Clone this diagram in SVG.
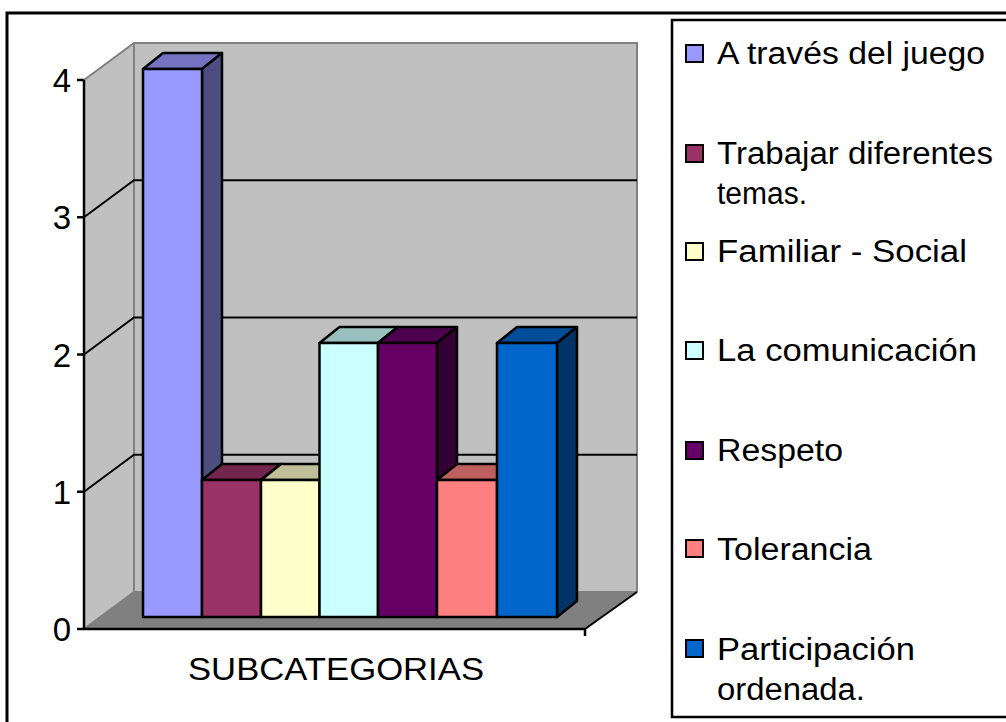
<svg xmlns="http://www.w3.org/2000/svg" width="1006" height="722" viewBox="0 0 1006 722">
<style>
.lbl{font-family:"Liberation Sans",Arial,sans-serif;fill:#000}
.ax{font-size:33px}
.ttl{font-size:32px}
.lg{font-size:31px}
.bar{stroke:#000;stroke-width:2.5;stroke-linejoin:round}
.grid{stroke:#000;stroke-width:2;fill:none}
.wedge{stroke:#808080;stroke-width:2;fill:none}
.sw{stroke:#000;stroke-width:2}
</style>
<rect x="0" y="0" width="1006" height="722" fill="#fff"/>
<g id="frame">
<rect x="7" y="13" width="1020" height="730" fill="none" stroke="#000" stroke-width="3"/>
</g>
<g id="walls">
<polygon points="84,80 134,43 134,592 84,629" fill="#C0C0C0"/>
<rect x="134" y="43" width="503" height="549" fill="#C0C0C0"/>
<polygon points="84,629 134,592 637,592 585,629" fill="#808080"/>
<polyline class="wedge" points="84,80 134,43 637,43 637,592"/>
<line class="wedge" x1="134" y1="43" x2="134" y2="592"/>
<polyline class="wedge" points="84,629 134,592 637,592"/>
<line x1="585" y1="629" x2="637" y2="592" stroke="#000" stroke-width="2"/>
</g>
<g id="gridlines">
<polyline class="grid" points="84,491.75 134,454.75 637,454.75"/>
<polyline class="grid" points="84,354.5 134,317.5 637,317.5"/>
<polyline class="grid" points="84,217.25 134,180.25 637,180.25"/>
</g>
<g id="axes">
<line x1="84" y1="80" x2="84" y2="629" stroke="#000" stroke-width="2.5"/>
<line x1="84" y1="629" x2="585" y2="629" stroke="#000" stroke-width="2.5"/>
<line x1="585" y1="629" x2="585" y2="636" stroke="#000" stroke-width="2.5"/>
<g stroke="#000" stroke-width="2.5">
<line x1="77" y1="629" x2="84" y2="629"/>
<line x1="77" y1="491.75" x2="84" y2="491.75"/>
<line x1="77" y1="354.5" x2="84" y2="354.5"/>
<line x1="77" y1="217.25" x2="84" y2="217.25"/>
<line x1="77" y1="80" x2="84" y2="80"/>
</g>
<g class="lbl ax" text-anchor="end">
<text x="71" y="641">0</text>
<text x="71" y="504">1</text>
<text x="71" y="367">2</text>
<text x="71" y="229">3</text>
<text x="71" y="92">4</text>
</g>
<text class="lbl ttl" x="188" y="680" textLength="296" lengthAdjust="spacingAndGlyphs">SUBCATEGORIAS</text>
</g>
<g id="bar1">
<polygon class="bar" fill="#7373BF" points="143,69 163,53 222,53 202,69"/>
<polygon class="bar" fill="#4D4D80" points="202,69 222,53 222,601 202,617"/>
<rect class="bar" fill="#9999FF" x="143" y="69" width="59" height="548"/>
</g>
<g id="bar2">
<polygon class="bar" fill="#73264D" points="202,480 222,464 281,464 261,480"/>
<polygon class="bar" fill="#4D1A33" points="261,480 281,464 281,601 261,617"/>
<rect class="bar" fill="#993366" x="202" y="480" width="59" height="137"/>
</g>
<g id="bar3">
<polygon class="bar" fill="#BFBF99" points="261,480 281,464 339.5,464 319.5,480"/>
<polygon class="bar" fill="#808066" points="319.5,480 339.5,464 339.5,601 319.5,617"/>
<rect class="bar" fill="#FFFFCC" x="261" y="480" width="58.5" height="137"/>
</g>
<g id="bar4">
<polygon class="bar" fill="#99BFBF" points="319.5,343 339.5,327 398,327 378,343"/>
<polygon class="bar" fill="#668080" points="378,343 398,327 398,601 378,617"/>
<rect class="bar" fill="#CCFFFF" x="319.5" y="343" width="58.5" height="274"/>
</g>
<g id="bar5">
<polygon class="bar" fill="#4D004D" points="378,343 398,327 457,327 437,343"/>
<polygon class="bar" fill="#330033" points="437,343 457,327 457,601 437,617"/>
<rect class="bar" fill="#660066" x="378" y="343" width="59" height="274"/>
</g>
<g id="bar6">
<polygon class="bar" fill="#BF6060" points="437,480 457,464 517,464 497,480"/>
<polygon class="bar" fill="#804040" points="497,480 517,464 517,601 497,617"/>
<rect class="bar" fill="#FF8080" x="437" y="480" width="60" height="137"/>
</g>
<g id="bar7">
<polygon class="bar" fill="#004D99" points="497,343 517,327 577,327 557,343"/>
<polygon class="bar" fill="#003366" points="557,343 577,327 577,601 557,617"/>
<rect class="bar" fill="#0066CC" x="497" y="343" width="60" height="274"/>
</g>
<g id="legend">
<rect x="672" y="20" width="400" height="697" fill="#fff" stroke="#000" stroke-width="2.5"/>
<g class="sw">
<rect x="686" y="45" width="17" height="17" fill="#9999FF"/>
<rect x="686" y="145" width="17" height="17" fill="#993366"/>
<rect x="686" y="243" width="17" height="17" fill="#FFFFCC"/>
<rect x="686" y="342" width="17" height="17" fill="#CCFFFF"/>
<rect x="686" y="442" width="17" height="17" fill="#660066"/>
<rect x="686" y="540" width="17" height="17" fill="#FF8080"/>
<rect x="686" y="640" width="17" height="17" fill="#0066CC"/>
</g>
<g class="lbl lg">
<text x="717" y="64" textLength="268" lengthAdjust="spacingAndGlyphs">A través del juego</text>
<text x="717" y="164" textLength="276" lengthAdjust="spacingAndGlyphs">Trabajar diferentes</text>
<text x="717" y="204" textLength="90" lengthAdjust="spacingAndGlyphs">temas.</text>
<text x="717" y="262" textLength="250" lengthAdjust="spacingAndGlyphs">Familiar - Social</text>
<text x="717" y="361" textLength="260" lengthAdjust="spacingAndGlyphs">La comunicación</text>
<text x="717" y="461" textLength="126" lengthAdjust="spacingAndGlyphs">Respeto</text>
<text x="717" y="560" textLength="155" lengthAdjust="spacingAndGlyphs">Tolerancia</text>
<text x="717" y="660" textLength="198" lengthAdjust="spacingAndGlyphs">Participación</text>
<text x="717" y="700" textLength="148" lengthAdjust="spacingAndGlyphs">ordenada.</text>
</g>
</g>
</svg>
